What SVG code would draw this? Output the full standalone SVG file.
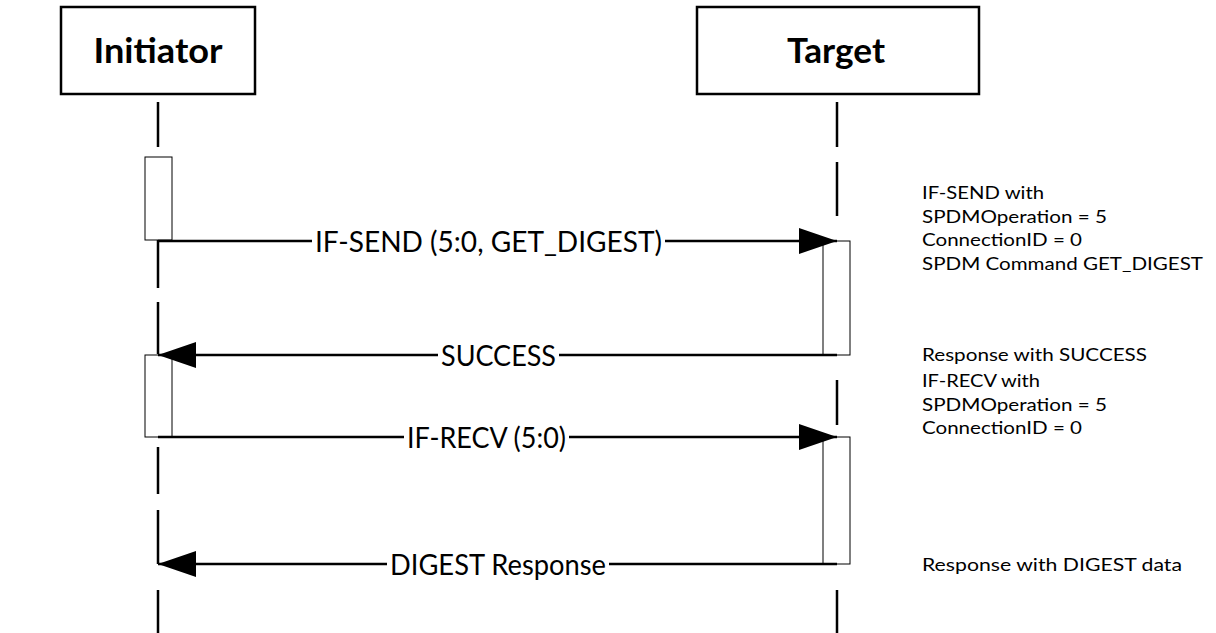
<svg xmlns="http://www.w3.org/2000/svg" width="1216" height="633" viewBox="0 0 1216 633">
  <style>
    .head { fill: #ffffff; stroke: #000000; stroke-width: 2.5; }
    .headtxt { font-family: Lato, "Open Sans", "Liberation Sans", sans-serif; font-weight: bold; font-size: 34px; fill: #000000; text-anchor: middle; }
    .life { stroke: #000000; stroke-width: 2.5; fill: none; }
    .act { fill: #ffffff; stroke: #000000; stroke-width: 1; }
    .msg { stroke: #000000; stroke-width: 2.5; fill: none; }
    .lbl { font-family: Lato, "Open Sans", "Liberation Sans", sans-serif; font-size: 29px; fill: #000000; }
    .note { font-family: Lato, "Open Sans", "Liberation Sans", sans-serif; font-size: 17px; fill: #000000; }
  </style>
  <defs>
    <marker id="ah" viewBox="0 0 38 26" refX="38" refY="13" markerWidth="38" markerHeight="26" markerUnits="userSpaceOnUse" orient="auto">
      <path d="M0,0 L38,13 L0,26 Z" fill="#000000"/>
    </marker>
  </defs>

  <rect width="1216" height="633" fill="#ffffff"/>

  <!-- participant heads -->
  <g id="initiator">
    <rect class="head" x="61" y="7" width="194" height="87"/>
    <text class="headtxt" x="158" y="63" textLength="129" lengthAdjust="spacingAndGlyphs">Initiator</text>
  </g>
  <g id="target">
    <rect class="head" x="697" y="7" width="282" height="87"/>
    <text class="headtxt" x="836" y="63" textLength="98" lengthAdjust="spacingAndGlyphs">Target</text>
  </g>

  <!-- dashed lifelines -->
  <g id="lifelines">
    <path class="life" d="M158,102 V147 M158,240 V288 M158,302 V354 M158,447 V494 M158,510 V564 M158,590 V633"/>
    <path class="life" d="M837,102 V147 M837,162 V216 M837,380 V425 M837,590 V633"/>
  </g>

  <!-- activation bars -->
  <g id="activations">
    <rect class="act" x="145" y="157" width="27" height="83"/>
    <rect class="act" x="823" y="241" width="27" height="114"/>
    <rect class="act" x="145" y="355" width="27" height="82"/>
    <rect class="act" x="823" y="437" width="27" height="127"/>
  </g>

  <!-- messages -->
  <g id="connectors">
    <path class="msg" d="M158,241 H312"/>
    <path class="msg" d="M665,241 H837" marker-end="url(#ah)"/>
    <path class="msg" d="M837,355 H559"/>
    <path class="msg" d="M438,355 H158" marker-end="url(#ah)"/>
    <path class="msg" d="M158,437 H404"/>
    <path class="msg" d="M569,437 H837" marker-end="url(#ah)"/>
    <path class="msg" d="M837,564 H609"/>
    <path class="msg" d="M387,564 H158" marker-end="url(#ah)"/>
  </g>

  <g id="message-labels">
    <text class="lbl" x="315" y="252" textLength="347" lengthAdjust="spacingAndGlyphs">IF-SEND (5:0, GET_DIGEST)</text>
    <text class="lbl" x="441" y="366" textLength="115" lengthAdjust="spacingAndGlyphs">SUCCESS</text>
    <text class="lbl" x="407" y="448" textLength="159" lengthAdjust="spacingAndGlyphs">IF-RECV (5:0)</text>
    <text class="lbl" x="390" y="575" textLength="216" lengthAdjust="spacingAndGlyphs">DIGEST Response</text>
  </g>

  <!-- side notes -->
  <g id="notes">
    <text class="note" x="922" y="199" textLength="122" lengthAdjust="spacingAndGlyphs">IF-SEND with</text>
    <text class="note" x="922" y="223" textLength="185" lengthAdjust="spacingAndGlyphs">SPDMOperation = 5</text>
    <text class="note" x="922" y="246" textLength="160" lengthAdjust="spacingAndGlyphs">ConnectionID = 0</text>
    <text class="note" x="922" y="270" textLength="281" lengthAdjust="spacingAndGlyphs">SPDM Command GET_DIGEST</text>
    <text class="note" x="922" y="361" textLength="225" lengthAdjust="spacingAndGlyphs">Response with SUCCESS</text>
    <text class="note" x="922" y="387" textLength="118" lengthAdjust="spacingAndGlyphs">IF-RECV with</text>
    <text class="note" x="922" y="411" textLength="185" lengthAdjust="spacingAndGlyphs">SPDMOperation = 5</text>
    <text class="note" x="922" y="434" textLength="160" lengthAdjust="spacingAndGlyphs">ConnectionID = 0</text>
    <text class="note" x="922" y="571" textLength="260" lengthAdjust="spacingAndGlyphs">Response with DIGEST data</text>
  </g>
</svg>
